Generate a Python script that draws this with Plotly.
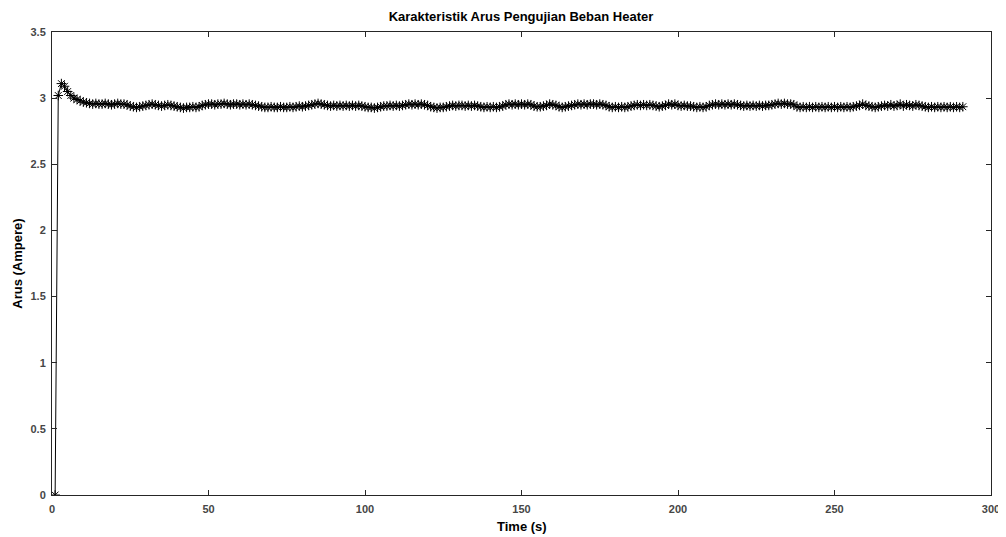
import plotly.graph_objects as go

arus_a = [
    0.0, 3.02, 3.11, 3.09, 3.05, 3.02, 3.00, 2.99, 2.98, 2.97, 2.965, 2.96,
    2.955, 2.96, 2.955, 2.955, 2.96, 2.955, 2.95, 2.955, 2.96, 2.955, 2.955, 2.95,
    2.94, 2.935, 2.93, 2.935, 2.94,
    2.945, 2.95, 2.955, 2.95, 2.945,
    2.94, 2.945, 2.95, 2.945,
    2.94, 2.935, 2.93, 2.925, 2.93, 2.93, 2.935, 2.93, 2.935,
    2.945, 2.95, 2.955, 2.955, 2.95, 2.955, 2.955, 2.96, 2.955, 2.95, 2.955, 2.955,
    2.95, 2.955, 2.95, 2.955, 2.95, 2.945,
    2.94, 2.935, 2.93, 2.93, 2.935, 2.93, 2.93, 2.935, 2.93, 2.93, 2.935, 2.93,
    2.935, 2.94, 2.935,
    2.94, 2.945, 2.95, 2.955, 2.96, 2.955, 2.95, 2.945,
    2.94, 2.945, 2.94, 2.945, 2.94, 2.945, 2.94, 2.945, 2.94, 2.945, 2.94, 2.935,
    2.93, 2.93, 2.925, 2.93, 2.935, 2.94,
    2.94, 2.945, 2.94, 2.945, 2.94, 2.945,
    2.95, 2.955, 2.95, 2.955, 2.95, 2.955, 2.95, 2.945,
    2.935, 2.93, 2.925, 2.93, 2.93, 2.935, 2.94,
    2.945, 2.94, 2.945, 2.945, 2.94, 2.945, 2.94, 2.945, 2.94, 2.935,
    2.93, 2.935, 2.93, 2.935, 2.93, 2.935, 2.94,
    2.95, 2.955, 2.95, 2.955, 2.95, 2.955, 2.95, 2.955, 2.95,
    2.94, 2.935, 2.935, 2.94, 2.945,
    2.955, 2.95, 2.945,
    2.935, 2.93, 2.935, 2.94, 2.945,
    2.95, 2.955, 2.95, 2.955, 2.95, 2.955, 2.955, 2.95, 2.955, 2.95, 2.945,
    2.935, 2.93, 2.935, 2.93, 2.935, 2.93, 2.935, 2.94,
    2.945, 2.95, 2.945, 2.95, 2.945, 2.95, 2.945,
    2.94, 2.935, 2.94, 2.945,
    2.955, 2.95, 2.955, 2.945,
    2.94, 2.945, 2.94, 2.94, 2.935,
    2.93, 2.935, 2.93, 2.935,
    2.945, 2.95, 2.955, 2.95, 2.955, 2.95, 2.955, 2.95, 2.955, 2.95,
    2.945, 2.94, 2.945, 2.94, 2.945, 2.94, 2.945, 2.94, 2.945, 2.945, 2.95,
    2.955, 2.96, 2.955, 2.96, 2.955, 2.955, 2.95,
    2.935, 2.93, 2.935, 2.93, 2.935, 2.93, 2.935, 2.93, 2.935, 2.93, 2.935,
    2.93, 2.935, 2.93, 2.935, 2.93, 2.935, 2.93, 2.935, 2.94, 2.945,
    2.955, 2.945, 2.94,
    2.935, 2.93, 2.935, 2.94,
    2.945, 2.94, 2.95, 2.94, 2.945, 2.955, 2.94, 2.95, 2.945, 2.94, 2.95, 2.945,
    2.94, 2.935,
    2.93, 2.935, 2.93, 2.935, 2.93, 2.935, 2.93, 2.935, 2.93, 2.935, 2.93, 2.935,
]
time_s = list(range(1, len(arus_a) + 1))

x_ticks = [0, 50, 100, 150, 200, 250, 300]
y_ticks = [0, 0.5, 1, 1.5, 2, 2.5, 3, 3.5]

font_family = "Liberation Sans, Arial, sans-serif"
axis_col = "rgb(38,38,38)"
tick_col = "rgb(70,70,70)"
label_font = dict(family=font_family, size=13, color="black", weight="bold")

fig = go.Figure()
fig.add_trace(go.Scatter(
    x=time_s, y=arus_a, mode="lines+markers",
    line=dict(color="black", width=1),
    marker=dict(symbol="asterisk-open", size=8, color="black",
                line=dict(color="black", width=1)),
    showlegend=False,
))

axis_common = dict(
    showline=True, linecolor=axis_col, linewidth=1, mirror="ticks",
    ticks="inside", ticklen=5, tickcolor=axis_col, showgrid=False,
    zeroline=False, automargin=False,
    tickfont=dict(family=font_family, size=11, color=tick_col, weight="bold"),
)

# page body has an 8px margin, so the figure is a bit smaller than the window
fig.update_layout(
    width=998, height=529,
    paper_bgcolor="white", plot_bgcolor="white",
    margin=dict(l=44, r=15, t=24, b=42),
    title=dict(text="Karakteristik Arus Pengujian Beban Heater",
               x=0.514, xanchor="center", y=0.993, yanchor="top",
               font=label_font),
    xaxis=dict(range=[0, 300], tickvals=x_ticks, ticklabelstandoff=4, **axis_common),
    yaxis=dict(range=[0, 3.5], tickvals=y_ticks, ticklabelstandoff=3, **axis_common),
)

fig.add_annotation(text="Time (s)", xref="x domain", yref="paper",
                   x=0.5, y=-0.067, xanchor="center", yanchor="middle",
                   showarrow=False, font=label_font)
fig.add_annotation(text="Arus (Ampere)", xref="paper", yref="y domain",
                   x=-0.037, y=0.5, xanchor="center", yanchor="middle",
                   textangle=-90, showarrow=False, font=label_font)

fig.write_html("out.html")
